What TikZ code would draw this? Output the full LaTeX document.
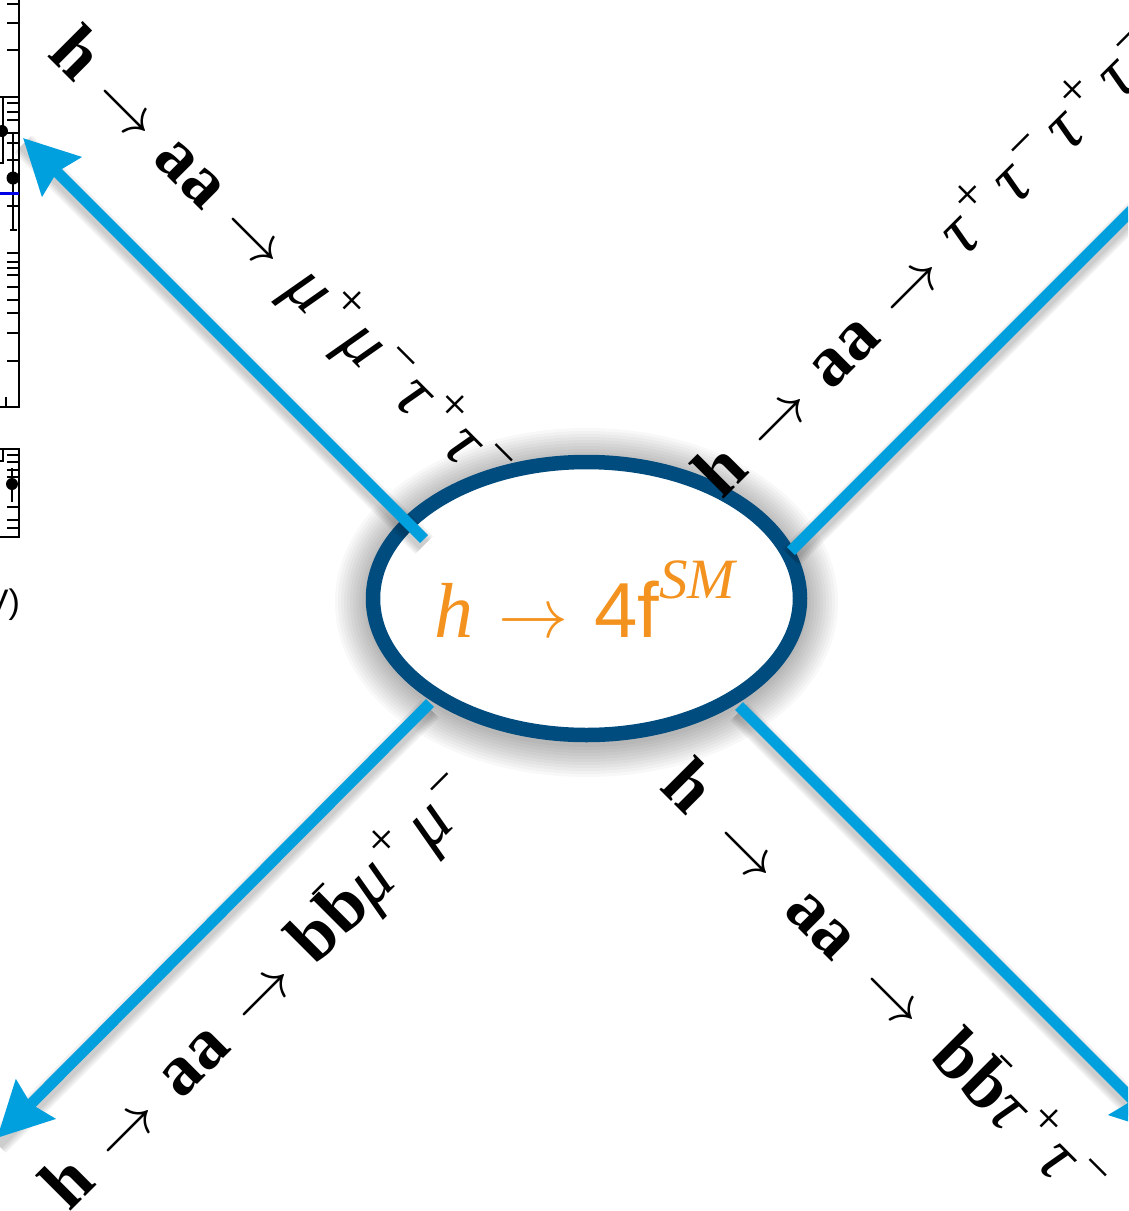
\RequirePackage{fix-cm}
\documentclass[tikz,border=0pt]{standalone}
\usepackage{fontspec}
\setmainfont{Liberation Serif}
\newfontfamily\lsans{Liberation Sans}
\usetikzlibrary{arrows.meta,shapes.geometric}
\definecolor{lineblue}{RGB}{0,160,222}
\definecolor{ringblue}{RGB}{0,76,126}
\definecolor{hot}{RGB}{243,146,30}
\definecolor{plotblue}{RGB}{0,0,230}
\newcommand\upsc[1]{\hspace{0.08em}\raisebox{0.36em}{\fontsize{50}{50}\selectfont\mdseries\upshape #1}\hspace{0.1em}}
\newcommand\tauu{\textit{τ}}
\newcommand\muu{\textit{μ}}
\newcommand\arr{\makebox[1em]{\fontsize{65}{65}\selectfont$\rightarrow$}}
\newcommand\bbb{\textbf{b}\textbf{b}\llap{\raisebox{0.72em}{\rule{0.22em}{0.035em}}\hspace{0.22em}}}
\tikzset{
  lab/.style={font=\fontsize{72}{80}\selectfont, inner sep=0pt, anchor=base west},
  conn/.style={lineblue, line width=11pt},
  tipped/.style={-{Stealth[length=54pt,width=54pt,inset=6pt]}},
  shad/.style={black, opacity=0.05},
}
\begin{document}
\begin{tikzpicture}[x=1pt,y=-1pt]
\useasboundingbox (0,0) rectangle (1128,1211);
\clip (0,0) rectangle (1128,1211);
\fill[white] (0,0) rectangle (1128,1211);

% plot fragment at the left edge
\begin{scope}[line width=2.2pt]
\draw (19,-5) -- (19,407) -- (-5,407);
\draw[line width=1.4pt] (6,407) -- (6,397);
\foreach \y in {4,23,50,103,112,120,133,143,160,206,253,262,268,275,287,300,313,333,361}
  \draw[line width=1.6pt] (7,\y) -- (19,\y);
\draw[line width=1.6pt] (-2,97) -- (19,97);
\draw[line width=1.4pt] (3,97) -- (3,163) -- (-2,163);
\draw[line width=1.4pt] (13,133) -- (13,230);
\draw[line width=1.4pt] (10,230) -- (17,230);
\fill (2,131) circle (6);
\fill (13,178) circle (6.5);
\draw[plotblue, line width=3pt] (-2,193) -- (19,193);
\draw (-2,449) -- (19,449) -- (19,537) -- (-2,537);
\draw[line width=1.4pt] (3,449) -- (3,461) -- (-2,461);
\foreach \y in {455,462,470,477,507,520,528}
  \draw[line width=1.6pt] (7,\y) -- (19,\y);
\draw[line width=1.4pt] (12,468) -- (12,502);
\fill (12,484) circle (6);
\node[anchor=base east, inner sep=0pt, font=\lsans\fontsize{34}{36}\selectfont] (unit) at (21,613) {(GeV)};
\end{scope}

% named points
\coordinate (C) at (586.5,598.5);
\coordinate (ulA) at (424,539);  \coordinate (ulB) at (23,138);
\coordinate (urA) at (791,551);  \coordinate (urB) at (1221,121);
\coordinate (llA) at (430,703);  \coordinate (llB) at (-3,1138);
\coordinate (lrA) at (739,706);  \coordinate (lrB) at (1167,1134);

% soft shadow of the ring
\foreach \w in {16,22,...,76}
  \draw[black, opacity=0.026, line width=\w pt] ([yshift=-4pt]C) ellipse [x radius=213.5, y radius=136.5];

% ring
\node[ellipse, draw=ringblue, fill=white, line width=14.5pt, minimum width=427pt, minimum height=273pt, inner sep=0pt] (core) at (C) {};

% shadows of connectors
\foreach \w in {13,17,21,25}
{
  \draw[shad, line width=\w pt, transform canvas={yshift=-6pt}] (ulA) -- (ulB);
  \draw[shad, line width=\w pt, transform canvas={yshift=-6pt}] (urA) -- (urB);
  \draw[shad, line width=\w pt, transform canvas={yshift=-6pt}] (llA) -- (llB);
  \draw[shad, line width=\w pt, transform canvas={yshift=-6pt}] (lrA) -- (lrB);
}

% connectors
\draw[conn, tipped] (ulA) -- (ulB);
\draw[conn, tipped] (urA) -- (urB);
\draw[conn, tipped] (llA) -- (llB);
\draw[conn, tipped] (lrA) -- (lrB);

% centre label
\node[inner sep=0pt, anchor=base west, text=hot, font=\fontsize{78}{84}\selectfont] (title) at (434,637)
  {\textit{h}\hspace{29pt}\makebox[63pt]{\fontsize{70}{70}\selectfont$\rightarrow$}\hspace{29pt}{\lsans 4f}\raisebox{0.5em}{\fontsize{57}{60}\selectfont\itshape SM}};

% decay labels
\node[lab, rotate=-45] (labUL) at (46,55)
  {\textbf{h}\hspace{0.26em}\arr\hspace{0.26em}\textbf{aa}\hspace{0.26em}\arr\hspace{0.3em}\muu\upsc{+}\muu\upsc{−}\tauu\upsc{+}\tauu\upsc{−}};
\node[lab, rotate=45] (labUR) at (722,501)
  {\textbf{h}\hspace{0.3em}\arr\hspace{0.3em}\textbf{aa}\hspace{0.3em}\arr\hspace{0.3em}\tauu\upsc{+}\hspace{0.07em}\tauu\upsc{−}\hspace{0.07em}\tauu\upsc{+}\hspace{0.07em}\tauu\upsc{−}};
\node[lab, rotate=45] (labLL) at (69,1213)
  {\textbf{h}\hspace{0.33em}\arr\hspace{0.33em}\textbf{aa}\hspace{0.33em}\arr\hspace{0.3em}\bbb\muu\upsc{+}\hspace{0.06em}\muu\upsc{−}};
\node[lab, rotate=-45] (labLR) at (658,788)
  {\textbf{h}\hspace{0.44em}\arr\hspace{0.44em}\textbf{aa}\hspace{0.44em}\arr\hspace{0.44em}\bbb\tauu\upsc{+}\tauu\upsc{−}};
\end{tikzpicture}
\end{document}
